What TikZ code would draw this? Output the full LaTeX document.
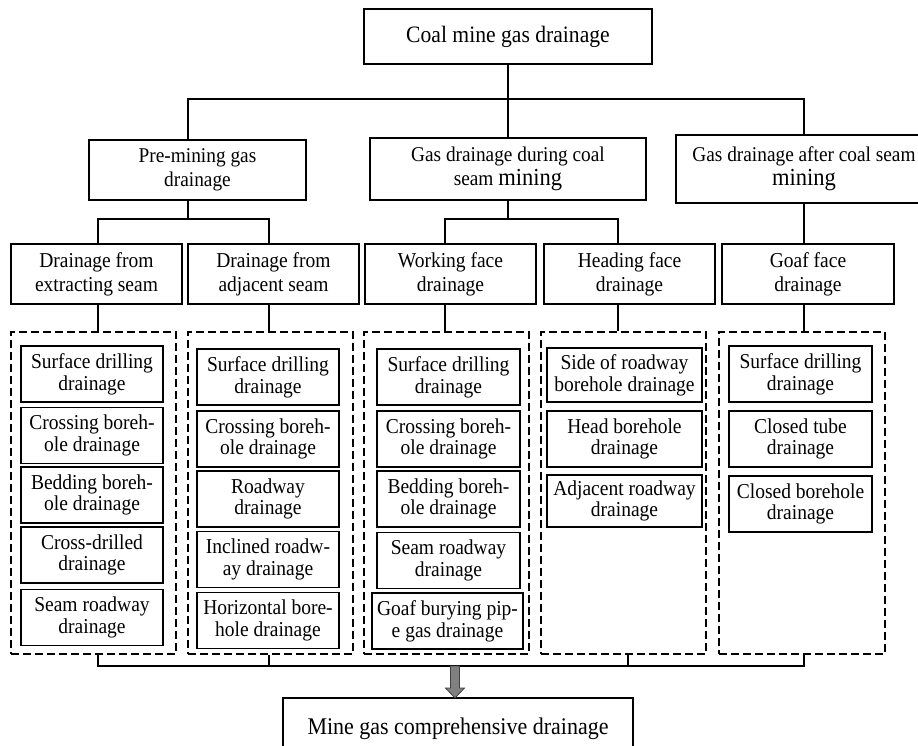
\documentclass[tikz,border=0pt]{standalone}
\usepackage{fontspec}
\setmainfont{Liberation Serif}
\newfontfamily\narrowserif[FakeStretch=0.92]{Liberation Serif}
\usetikzlibrary{calc}

\newcommand{\bigmining}{{\fontsize{24.5}{24}\selectfont mining}}

\tikzset{
  rootbox/.style={draw, line width=1.3pt, inner sep=0pt, align=center,
    font=\narrowserif\fontsize{23.5}{26}\selectfont},
  headbox/.style={draw, line width=1.3pt, inner sep=0pt, align=center,
    font=\narrowserif\fontsize{21}{24}\selectfont},
  facebox/.style={draw, line width=1.3pt, inner sep=0pt, align=center,
    minimum width=171pt, minimum height=60pt, font=\narrowserif\fontsize{21.2}{24}\selectfont},
  itembox/.style={draw, line width=1.3pt, inner sep=0pt, align=center,
    minimum height=56pt, font=\narrowserif\fontsize{21.2}{21.7}\selectfont},
  groupbox/.style={draw, line width=2.5pt, dash pattern=on 8pt off 4pt,
    inner sep=0pt, minimum width=165pt, minimum height=322pt},
  link/.style={line width=1.3pt},
  bigarrow/.style={fill=gray, draw=black!75, line width=0.8pt, line join=miter}
}

\begin{document}
\begin{tikzpicture}[x=1pt, y=-1pt]
                \useasboundingbox (0,0) rectangle (918,746);
                \clip (0,0) rectangle (918,746);

                % Drawing box root
                \node (root) [rootbox, minimum width=288pt, minimum height=55pt] at (508,36.5) {Coal mine gas drainage};

                % Drawing boxes of level 2
                \node (pre) [headbox, minimum width=217pt, minimum height=60pt] at (197.5,170) {Pre-mining gas\\drainage};
                \node (mid) [headbox, minimum width=276pt, minimum height=62pt] at (508,169) {Gas drainage during coal\\seam \bigmining};
                \node (after) [headbox, minimum width=256pt, minimum height=68pt] at (804,169) {Gas drainage after coal seam\\\bigmining};

                % Drawing boxes of level 3
                \node (extract) [facebox] at (96.5,274) {Drainage from\\extracting seam};
                \node (adjacent) [facebox] at (273.5,274) {Drainage from\\adjacent seam};
                \node (working) [facebox] at (450.5,274) {Working face\\drainage};
                \node (heading) [facebox] at (629.5,274) {Heading face\\drainage};
                \node (goaf) [facebox, minimum width=172pt] at (808,274) {Goaf face\\drainage};

                % Drawing dashed groups
                \node (grpA) [groupbox] at (93.5,493) {};
                \node (grpB) [groupbox] at (270.5,493) {};
                \node (grpC) [groupbox] at (446.5,493) {};
                \node (grpD) [groupbox] at (623.5,493) {};
                \node (grpE) [groupbox, minimum width=166pt] at (802,493) {};

                % Drawing items of group A
                \node (a1) [itembox, minimum width=142pt] at (92,374) {Surface drilling\\drainage};
                \node (a2) [itembox, minimum width=142pt] at (92,435.5) {Crossing boreh-\\ole drainage};
                \node (a3) [itembox, minimum width=142pt] at (92,495) {Bedding boreh-\\ole drainage};
                \node (a4) [itembox, minimum width=142pt] at (92,555) {Cross-drilled\\drainage};
                \node (a5) [itembox, minimum width=142pt] at (92,617.5) {Seam roadway\\drainage};

                % Drawing items of group B
                \node (b1) [itembox, minimum width=142pt] at (268,377) {Surface drilling\\drainage};
                \node (b2) [itembox, minimum width=142pt] at (268,439) {Crossing boreh-\\ole drainage};
                \node (b3) [itembox, minimum width=142pt] at (268,499) {Roadway\\drainage};
                \node (b4) [itembox, minimum width=142pt] at (268,559.5) {Inclined roadw-\\ay drainage};
                \node (b5) [itembox, minimum width=142pt] at (268,620.5) {Horizontal bore-\\hole drainage};

                % Drawing items of group C
                \node (c1) [itembox, minimum width=143pt] at (448.5,377) {Surface drilling\\drainage};
                \node (c2) [itembox, minimum width=143pt] at (448.5,439) {Crossing boreh-\\ole drainage};
                \node (c3) [itembox, minimum width=143pt] at (448.5,499) {Bedding boreh-\\ole drainage};
                \node (c4) [itembox, minimum width=143pt] at (448.5,560.5) {Seam roadway\\drainage};
                \node (c5) [itembox, minimum width=151pt] at (447.5,621) {Goaf burying pip-\\e gas drainage};

                % Drawing items of group D
                \node (d1) [itembox, minimum width=155pt, minimum height=54pt] at (624.5,375) {Side of roadway\\borehole drainage};
                \node (d2) [itembox, minimum width=155pt] at (624.5,439) {Head borehole\\drainage};
                \node (d3) [itembox, minimum width=155pt, minimum height=52pt] at (624.5,501) {Adjacent roadway\\drainage};

                % Drawing items of group E
                \node (e1) [itembox, minimum width=143pt] at (800.5,374) {Surface drilling\\drainage};
                \node (e2) [itembox, minimum width=143pt] at (800.5,439) {Closed tube\\drainage};
                \node (e3) [itembox, minimum width=143pt] at (800.5,504) {Closed borehole\\drainage};

                % Drawing box bottom
                \node (total) [rootbox, font=\narrowserif\fontsize{23.9}{26}\selectfont, minimum width=350pt, minimum height=62pt] at (458,729) {Mine gas comprehensive drainage};

                % Drawing links root -- level 2
                \coordinate (bus1) at (508,99);
                \draw [link] (root.south) -- (root.south |- mid.north);%
                \draw [link] ([xshift=-9.5pt]pre.north) |- (bus1) -| (after.north);%

                % Drawing links level 2 -- level 3
                \coordinate (bus2) at (188,219);
                \draw [link] ([xshift=-9.5pt]pre.south) -- (bus2);%
                \draw [link] ([xshift=1.5pt]extract.north) |- (bus2) -| ([xshift=-4.5pt]adjacent.north);%
                \coordinate (bus3) at (508,219);
                \draw [link] (mid.south) -- (bus3);%
                \draw [link] ([xshift=-5.5pt]working.north) |- (bus3) -| ([xshift=-11.5pt]heading.north);%
                \draw [link] (after.south) -- (after.south |- goaf.north);%

                % Drawing links level 3 -- groups
                \draw [link] ([xshift=1.5pt]extract.south) -- ([xshift=1.5pt]extract.south |- grpA.north);%
                \draw [link] ([xshift=-4.5pt]adjacent.south) -- ([xshift=-4.5pt]adjacent.south |- grpB.north);%
                \draw [link] ([xshift=-5.5pt]working.south) -- ([xshift=-5.5pt]working.south |- grpC.north);%
                \draw [link] ([xshift=-11.5pt]heading.south) -- ([xshift=-11.5pt]heading.south |- grpD.north);%
                \draw [link] (after.south |- goaf.south) -- (after.south |- grpE.north);%

                % Drawing links groups -- bottom
                \coordinate (bus4) at (455,666);
                \draw [link] ([xshift=4.5pt]grpA.south) |- (bus4) -| ([xshift=2pt]grpE.south);%
                \draw [link] ([xshift=-1.5pt]grpB.south) -- ([xshift=-1.5pt]grpB.south |- bus4);%
                \draw [link] ([xshift=4.5pt]grpD.south) -- ([xshift=4.5pt]grpD.south |- bus4);%

                % Drawing arrow to bottom box
                \draw [bigarrow] (bus4) ++(-4.5,0) -- ++(0,22) -- ++(-5,0) -- ++(9.5,10) -- ++(9.5,-10) -- ++(-5,0) -- ++(0,-22) -- cycle;%
\end{tikzpicture}
\end{document}
